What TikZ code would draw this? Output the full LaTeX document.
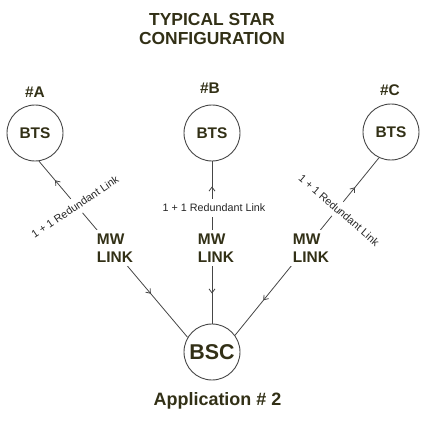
\documentclass[tikz,border=0pt]{standalone}
\usepackage{fontspec}
\setmainfont{Liberation Sans}
\usetikzlibrary{arrows.meta,decorations.markings}
\definecolor{inkolive}{RGB}{50,48,22}
\definecolor{linegray}{RGB}{70,70,70}

\begin{document}
\begin{tikzpicture}[x=1bp,y=1bp,
    bts/.style={circle,draw=linegray,line width=0.9bp,minimum size=56bp,inner sep=0pt,
        text=inkolive,font=\fontsize{15.5}{18}\selectfont\bfseries},
    hdr/.style={text=inkolive,font=\fontsize{15.5}{18}\selectfont\bfseries},
    mwlink/.style={fill=white,inner sep=4bp,align=left,text=inkolive,
        font=\fontsize{15.5}{18}\selectfont\bfseries},
    redlink/.style={fill=white,inner sep=5bp,text=black!85,font=\fontsize{10.8}{12}\selectfont},
    radio/.style 2 args={draw=linegray,line width=0.8bp,postaction={decorate},
        decoration={markings,
            mark=at position #1 with {\arrowreversed{Straight Barb[length=4bp,width=6bp]}},
            mark=at position -#2 with {\arrow{Straight Barb[length=4bp,width=6bp]}}}}]
    \useasboundingbox (0,0) rectangle (429,422);
    \node[hdr,align=center,font=\fontsize{17.5}{19.5}\selectfont\bfseries] (title) at (212,393) {TYPICAL STAR\\CONFIGURATION};
    % base stations and controller
    \node[bts] (btsA) at (35,289) {BTS};
    \node[bts] (btsB) at (212,289) {BTS};
    \node[bts] (btsC) at (391,290) {BTS};
    \node[bts,font=\fontsize{21.5}{24}\selectfont\bfseries] (bsc) at (212,70) {BSC};
    \node[hdr] (tagA) at (35,329.5) {\#A};
    \node[hdr] (tagB) at (210,334) {\#B};
    \node[hdr] (tagC) at (390,332) {\#C};
    % links
    \draw[radio={57bp}{25bp}] (bsc.149) -- (btsA.-82);
    \draw[radio={30bp}{25bp}] (bsc.north) -- (btsB.south);
    \draw[radio={45bp}{38bp}] (bsc.36) -- (btsC.-115);
    \node[mwlink] (mwA) at (115,174) {MW\\LINK};
    \node[mwlink] (mwB) at (216,174) {MW\\LINK};
    \node[mwlink] (mwC) at (311,174) {MW\\LINK};
    \node[redlink,rotate=34] (redA) at (75,215) {1 + 1 Redundant Link};
    \node[redlink] (redB) at (214,214) {1 + 1 Redundant Link};
    \node[redlink,rotate=-41] (redC) at (339,212) {1 + 1 Redundant Link};
    \node[hdr,font=\fontsize{18}{20}\selectfont\bfseries] (app) at (217.5,21.5) {Application \# 2};
\end{tikzpicture}
\end{document}
